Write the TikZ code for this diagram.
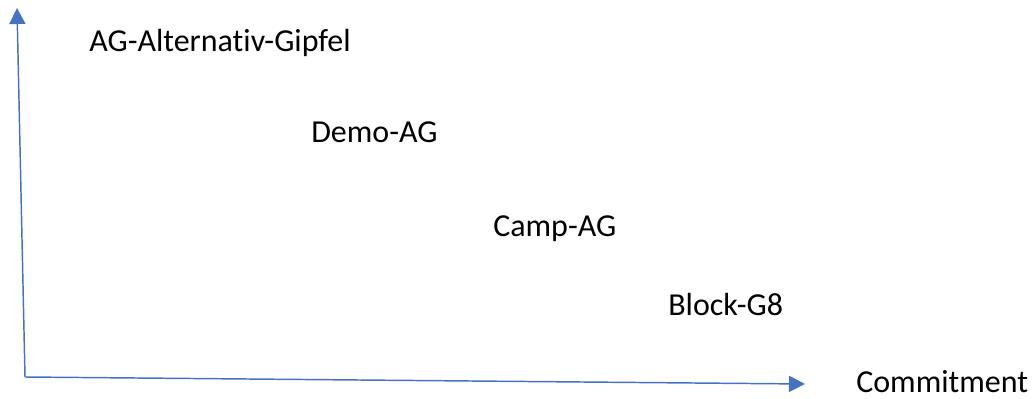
\documentclass[tikz,border=0pt]{standalone}
\usepackage{fontspec}
\setmainfont[RawFeature={-liga,-dlig,-calt}]{Carlito}
\usetikzlibrary{arrows.meta}
\definecolor{axisblue}{HTML}{4472C4}

\begin{document}
\begin{tikzpicture}[x=0.75pt,y=-0.75pt,
  every node/.style={anchor=base west,inner sep=0pt,font=\fontsize{24}{29}\selectfont},
  axis/.style={axisblue,line width=1.1pt,-{Triangle[width=12pt,length=12pt]}}]
\useasboundingbox (0,0) rectangle (1032,399);
\coordinate (O) at (25,377);
\coordinate (Y) at (17,8);
\coordinate (X) at (805,384);
\draw[axis] (O) -- (Y);
\draw[axis] (O) -- (X);
\node (gipfel) at (89,52)  {AG-Alternativ-Gipfel};
\node (demo)   at (311,143) {Demo-AG};
\node (camp)   at (493,237) {Camp-AG};
\node (block)  at (668,315) {Block-G8};
\node (commit) at (856,392) {Commitment};
\end{tikzpicture}
\end{document}
